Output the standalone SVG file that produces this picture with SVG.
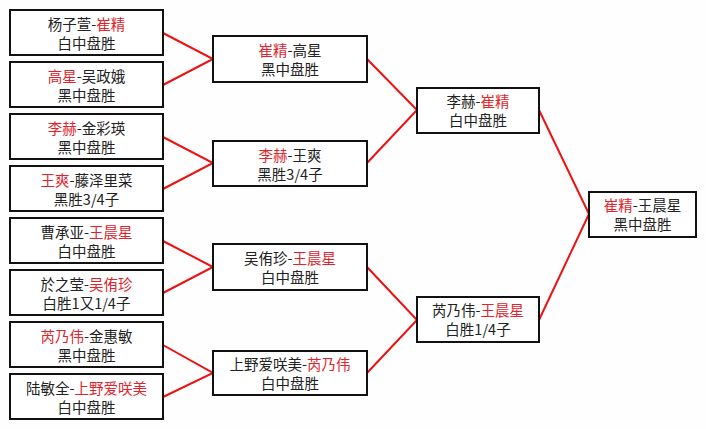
<svg xmlns="http://www.w3.org/2000/svg" width="706" height="429" viewBox="0 0 706 429">
<style>
.bg{fill:#fefefe}
.box{fill:#ffffff;stroke:#111;stroke-width:2}
.t{font-family:"Noto Sans CJK SC","Noto Sans CJK JP",sans-serif;font-size:14.5px;fill:#222;text-anchor:middle}
.r{fill:#e0242c}
.con{stroke:#ee1111;stroke-width:2;fill:none}
</style>
<rect class="bg" x="0" y="0" width="706" height="429"/>
<g id="connectors">
<polyline class="con" points="163,33 213,59 163,85"/>
<polyline class="con" points="163,137 213,163 163,189"/>
<polyline class="con" points="163,241 213,267 163,293"/>
<polyline class="con" points="163,345 213,373 163,397"/>
<polyline class="con" points="367,59 417,110 367,163"/>
<polyline class="con" points="367,267 417,320 367,373"/>
<polyline class="con" points="539,110 589,214 539,320"/>
</g>
<g id="n1"><rect class="box" x="10" y="10" width="153" height="45"/><text class="t" x="86.5" y="30">杨子萱-<tspan class="r">崔精</tspan></text><text class="t" x="86.5" y="49">白中盘胜</text></g>
<g id="n2"><rect class="box" x="10" y="62" width="153" height="45"/><text class="t" x="86.5" y="82"><tspan class="r">高星</tspan>-吴政娥</text><text class="t" x="86.5" y="101">黑中盘胜</text></g>
<g id="n3"><rect class="box" x="10" y="114" width="153" height="45"/><text class="t" x="86.5" y="134"><tspan class="r">李赫</tspan>-金彩瑛</text><text class="t" x="86.5" y="153">黑中盘胜</text></g>
<g id="n4"><rect class="box" x="10" y="166" width="153" height="45"/><text class="t" x="86.5" y="186"><tspan class="r">王爽</tspan>-藤泽里菜</text><text class="t" x="86.5" y="205">黑胜3/4子</text></g>
<g id="n5"><rect class="box" x="10" y="218" width="153" height="45"/><text class="t" x="86.5" y="238">曹承亚-<tspan class="r">王晨星</tspan></text><text class="t" x="86.5" y="257">白中盘胜</text></g>
<g id="n6"><rect class="box" x="10" y="270" width="153" height="45"/><text class="t" x="86.5" y="290">於之莹-<tspan class="r">吴侑珍</tspan></text><text class="t" x="86.5" y="309">白胜1又1/4子</text></g>
<g id="n7"><rect class="box" x="10" y="322" width="153" height="45"/><text class="t" x="86.5" y="342"><tspan class="r">芮乃伟</tspan>-金惠敏</text><text class="t" x="86.5" y="361">黑中盘胜</text></g>
<g id="n8"><rect class="box" x="10" y="374" width="153" height="45"/><text class="t" x="86.5" y="394">陆敏全-<tspan class="r">上野爱咲美</tspan></text><text class="t" x="86.5" y="413">白中盘胜</text></g>
<g id="m1"><rect class="box" x="213" y="36" width="154" height="46"/><text class="t" x="290" y="56"><tspan class="r">崔精</tspan>-高星</text><text class="t" x="290" y="75">黑中盘胜</text></g>
<g id="m2"><rect class="box" x="213" y="141" width="154" height="45"/><text class="t" x="290" y="161"><tspan class="r">李赫</tspan>-王爽</text><text class="t" x="290" y="180">黑胜3/4子</text></g>
<g id="m3"><rect class="box" x="213" y="244" width="154" height="46"/><text class="t" x="290" y="264">吴侑珍-<tspan class="r">王晨星</tspan></text><text class="t" x="290" y="283">白中盘胜</text></g>
<g id="m4"><rect class="box" x="213" y="351" width="154" height="44"/><text class="t" x="290" y="370">上野爱咲美-<tspan class="r">芮乃伟</tspan></text><text class="t" x="290" y="389">白中盘胜</text></g>
<g id="s1"><rect class="box" x="417" y="88" width="122" height="45"/><text class="t" x="478" y="107">李赫-<tspan class="r">崔精</tspan></text><text class="t" x="478" y="126">白中盘胜</text></g>
<g id="s2"><rect class="box" x="417" y="297" width="122" height="45"/><text class="t" x="478" y="316">芮乃伟-<tspan class="r">王晨星</tspan></text><text class="t" x="478" y="335">白胜1/4子</text></g>
<g id="f"><rect class="box" x="589" y="192" width="107" height="45"/><text class="t" x="642.5" y="211"><tspan class="r">崔精</tspan>-王晨星</text><text class="t" x="642.5" y="230">黑中盘胜</text></g>
</svg>
